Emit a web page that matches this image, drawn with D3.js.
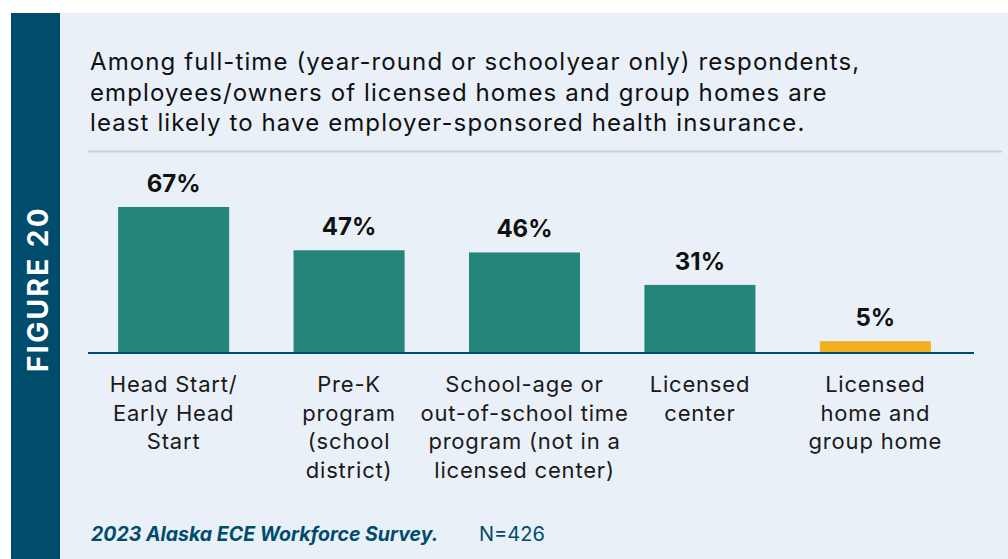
<!DOCTYPE html>
<html>
<head>
<meta charset="utf-8">
<script src="https://cdn.jsdelivr.net/npm/d3@7"></script>
<style>
  body { margin: 0; background: #fff; }
  svg { display: block; font-family: Inter, "Noto Sans", sans-serif; }
</style>
</head>
<body>
<svg id="chart" width="1008" height="559"></svg>
<script>
// data
var categories = [
    ["Head Start/", "Early Head", "Start"],
    ["Pre-K", "program", "(school", "district)"],
    ["School-age or", "out-of-school time", "program (not in a", "licensed center)"],
    ["Licensed", "center"],
    ["Licensed", "home and", "group home"]
];
var values = [67, 47, 46, 31, 5];
var highlight = [false, false, false, false, true];
var titleLines = [
    "Among full-time (year-round or schoolyear only) respondents,",
    "employees/owners of licensed homes and group homes are",
    "least likely to have employer-sponsored health insurance."
];

var svg = d3.select("#chart");
var navy = "#004c6d";

// panel and side strip
svg.append("rect").attr("x", 60).attr("y", 13).attr("width", 948).attr("height", 546).attr("fill", "#e9f0f7");
svg.append("rect").attr("x", 11).attr("y", 13).attr("width", 49).attr("height", 546).attr("fill", navy);
svg.append("text")
    .attr("transform", "translate(48,289) rotate(-90)")
    .attr("text-anchor", "middle")
    .attr("fill", "#fff")
    .attr("font-weight", 700)
    .attr("font-size", 28)
    .attr("letter-spacing", 2.4)
    .text("FIGURE 20");

// title
svg.append("g").selectAll("text")
    .data(titleLines)
    .join("text")
    .attr("x", 90)
    .attr("y", function(d, i) { return 70 + i * 30.5; })
    .attr("font-size", 24)
    .attr("letter-spacing", 1.1)
    .attr("fill", "#111")
    .text(function(d) { return d; });

svg.append("line")
    .attr("x1", 88).attr("x2", 1002)
    .attr("y1", 151.5).attr("y2", 151.5)
    .attr("stroke", "#c3d3df").attr("stroke-width", 2);

// scales
var baseline = 352;
var x = d3.scaleBand()
    .domain(d3.range(values.length))
    .range([86, 963])
    .paddingInner(0.367)
    .paddingOuter(0.183);
var y = d3.scaleLinear().domain([0, 67]).range([baseline, 207]);

svg.append("g").selectAll("rect")
    .data(values)
    .join("rect")
    .attr("x", function(d, i) { return x(i); })
    .attr("y", function(d) { return y(d); })
    .attr("width", x.bandwidth())
    .attr("height", function(d) { return baseline - y(d); })
    .attr("fill", function(d, i) { return highlight[i] ? "#f0b020" : "#25857b"; });

svg.append("line")
    .attr("x1", 88).attr("x2", 974)
    .attr("y1", baseline + 1).attr("y2", baseline + 1)
    .attr("stroke", navy).attr("stroke-width", 2);

svg.append("g").selectAll("text")
    .data(values)
    .join("text")
    .attr("x", function(d, i) { return x(i) + x.bandwidth() / 2; })
    .attr("y", function(d) { return y(d) - 15; })
    .attr("text-anchor", "middle")
    .attr("font-size", 24)
    .attr("font-weight", 700)
    .attr("fill", "#111")
    .text(function(d) { return d + "%"; });

// category labels
var labels = svg.append("g").selectAll("text")
    .data(categories)
    .join("text")
    .attr("text-anchor", "middle")
    .attr("font-size", 22)
    .attr("letter-spacing", 0.8)
    .attr("fill", "#1a1a1a");
labels.selectAll("tspan")
    .data(function(d, i) { return d.map(function(s) { return { s: s, i: i }; }); })
    .join("tspan")
    .attr("x", function(d) { return x(d.i) + x.bandwidth() / 2; })
    .attr("y", function(d, j) { return 392 + j * 28.5; })
    .text(function(d) { return d.s; });

// footer
svg.append("text")
    .attr("x", 91).attr("y", 541)
    .attr("font-size", 19.5)
    .attr("font-weight", 700)
    .attr("font-style", "italic")
    .attr("fill", navy)
    .text("2023 Alaska ECE Workforce Survey.");
svg.append("text")
    .attr("x", 479).attr("y", 541)
    .attr("font-size", 20)
    .attr("fill", navy)
    .text("N=426");
</script>
</body>
</html>
